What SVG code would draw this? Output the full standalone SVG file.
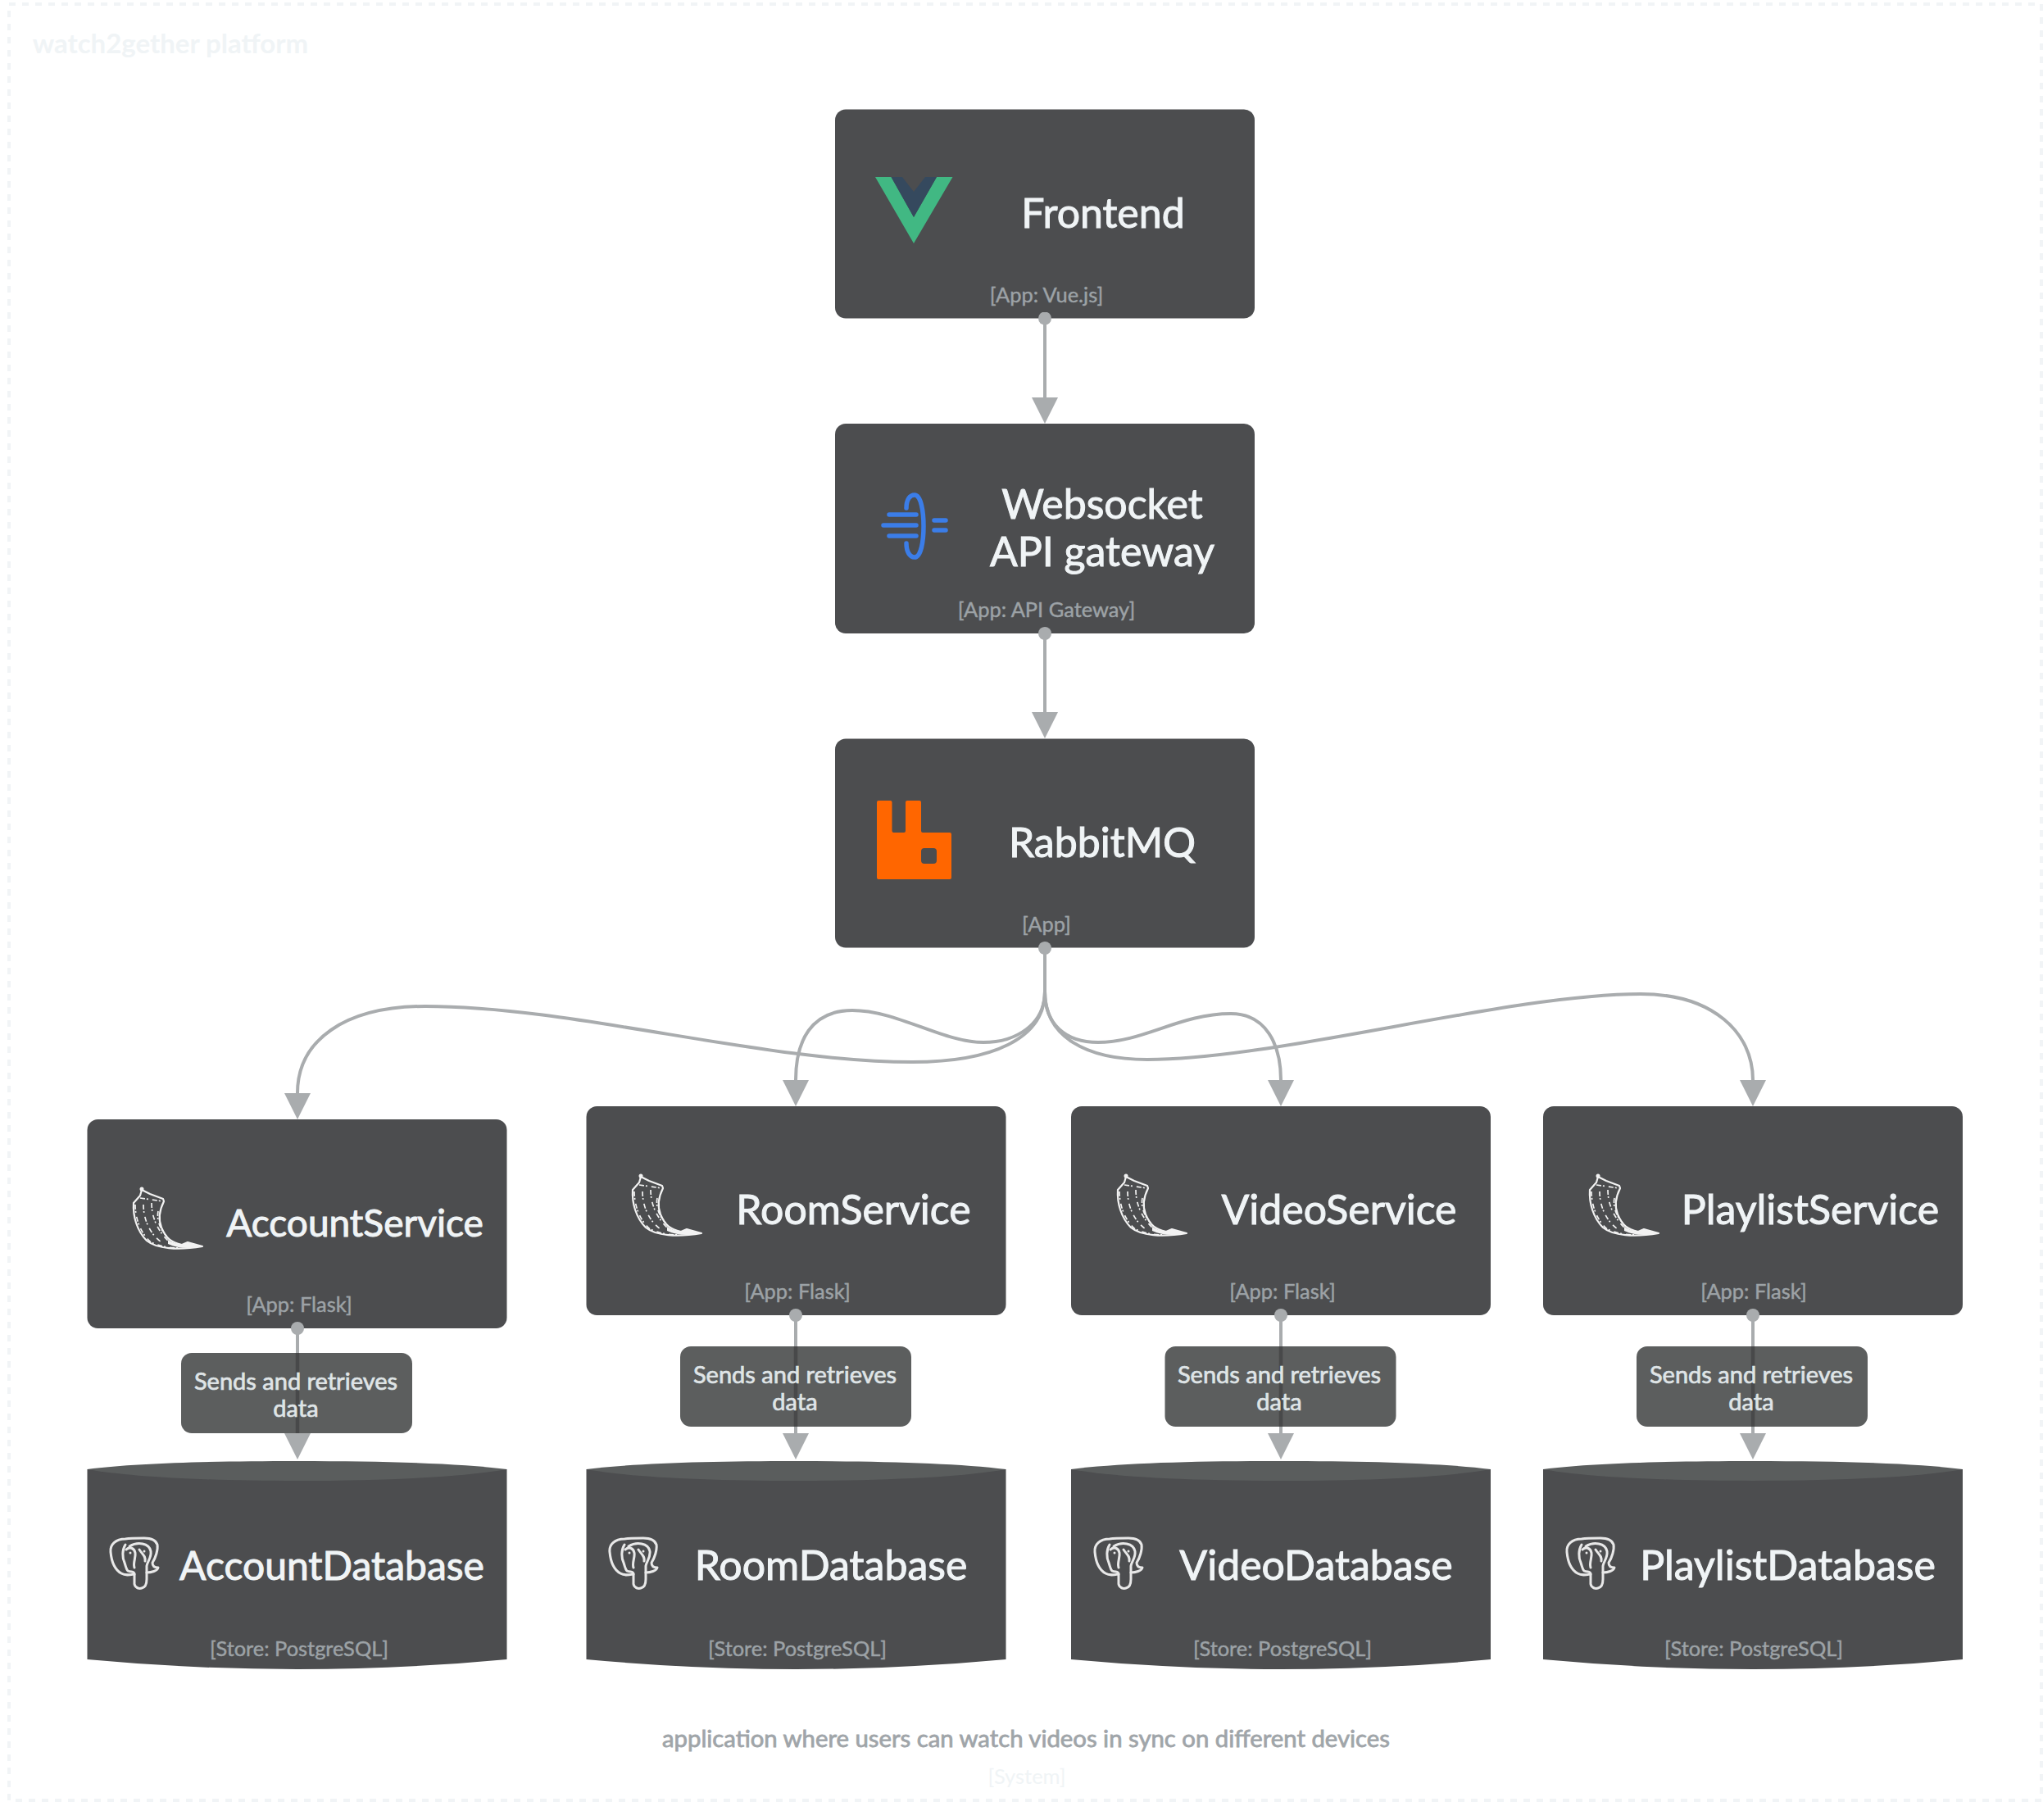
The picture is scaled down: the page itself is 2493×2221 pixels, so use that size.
<svg xmlns="http://www.w3.org/2000/svg" xmlns:xlink="http://www.w3.org/1999/xlink" width="2493" height="2221" viewBox="0 0 2493 2221">
<style>
text{font-family:Lato,"Liberation Sans",sans-serif;text-anchor:middle}
.box{fill:#4c4d4f}
.top{fill:#5a5d5d}
.name{font-size:50px;fill:#f0f4f6;stroke:#f0f4f6;stroke-width:1}
.sub{font-size:25.4px;fill:#9ca2a6;stroke:#9ca2a6;stroke-width:.45}
.lab{font-size:29px;fill:#dfe4e6;stroke:#dfe4e6;stroke-width:.7}
.labbox{fill:#5c5e5e}
.through{stroke:#48494a;stroke-width:4.5}
.conn{fill:none;stroke:#a9acae;stroke-width:4;marker-start:url(#dot);marker-end:url(#arrow)}
.curve{fill:none;stroke:#a9acae;stroke-width:4;marker-end:url(#arrow)}
.fl{fill:none;stroke:#f2f2f2;stroke-width:2.2;stroke-linejoin:round}
.el{fill:none;stroke:#e8e8e8;stroke-width:3;stroke-linejoin:round;stroke-linecap:round}
.bl{fill:none;stroke:#3b7de8;stroke-width:5.5;stroke-linecap:round}
</style>
<defs>
<marker id="arrow" markerUnits="userSpaceOnUse" markerWidth="32" markerHeight="32" viewBox="0 -16 32 32" refX="0" refY="0" orient="auto"><polygon points="0,-16 32,0 0,16" fill="#a9acae"/></marker>
<marker id="dot" markerUnits="userSpaceOnUse" markerWidth="16" markerHeight="16" viewBox="-8 -8 16 16" refX="0" refY="0"><circle r="8" fill="#a9acae"/></marker>
<path id="lid" class="top" d="M0 1793C60 1785.5 150 1783 256 1783C362 1783 452 1785.500 512 1793C462 1802 372 1807 256 1807C140 1807 50 1802 0 1793Z"/>
<g id="flask">
<path d="M100 152C112 158 128 158 142 155L124 150L117 153C110 152 104 150 100 147Z" fill="#f2f2f2"/>
<path class="fl" d="M68 86L66 93L58 102C57 118 62 136 74 148C86 158 112 160 142 155L124 150L117 153C104 150 98 146 92 132C88 122 90 110 95 100L94 97L78 91L68 86"/>
<path d="M60 104C60 120 66 138 78 149C88 155 102 157 116 157M66 96L94 100M70 104C70 122 78 140 92 150M80 102C80 118 86 134 100 148M88 112C86 122 90 134 98 142" fill="none" stroke="#f2f2f2" stroke-width="1.7" stroke-dasharray="6 2 2 5"/>
<circle cx="68" cy="85" r="2.5" fill="#f2f2f2"/>
</g>
<g id="pg">
<path class="el" d="M19 1C7 1 0 8 1 17C2 28 5 38 14 43C19 46 24 45 30 44L30 56C31 61 36 62 39 61C44 60 45 56 45 50L45 42C51 42 58 40 59 36C54 36 52 34 52 30C56 24 59 14 58 8C56 2 50 0 42 0C34 0 25 0 19 1Z"/>
<path class="el" d="M19 8C15 14 15 24 18 30C20 36 20 38 22 40C26 42 30 40 30 44M24 10C34 4 48 6 50 16C51 24 46 28 45 34L45 42M20 14C24 10 30 12 31 18C32 24 28 30 30 36M36 14C40 20 44 22 43 28"/>
<circle cx="25" cy="18" r="1.5" fill="#e8e8e8"/><circle cx="42" cy="16" r="1.5" fill="#e8e8e8"/>
</g>
</defs>
<rect id="boundary" x="11" y="5" width="2480" height="2192" fill="none" stroke="#f1f4f6" stroke-width="4" stroke-dasharray="8 8"/>
<text x="208" y="65" style="font-size:33px;font-weight:700;fill:#f0f4f6">watch2gether platform</text>

<g id="frontend">
<rect class="box" x="1019" y="133.5" width="512" height="255" rx="13"/>
<polygon points="1068,216 1087.5,216 1115,265 1143,216 1162.5,216 1115,297" fill="#41b883"/>
<polygon points="1087.5,216 1101,216 1115,234 1129,216 1143,216 1115,265" fill="#35495e"/>
<text class="name" x="1346" y="278">Frontend</text>
<text class="sub" x="1277" y="369">[App: Vue.js]</text>
</g>
<g id="websocket">
<rect class="box" x="1019" y="517" width="512" height="256" rx="13"/>
<path class="bl" d="M1106 620C1106 610 1110 604 1116 604C1124 604 1127 625 1127 642C1127 660 1124 680 1116 680C1110 680 1106 673 1106 663"/>
<path class="bl" d="M1085 628H1118M1078 641H1118M1085 654H1118M1140 635H1154M1140 647H1154"/>
<text class="name" x="1345" y="632.500">Websocket</text>
<text class="name" x="1345" y="690.500">API gateway</text>
<text class="sub" x="1277" y="753">[App: API Gateway]</text>
</g>
<g id="rabbitmq">
<rect class="box" x="1019" y="901.5" width="512" height="255" rx="13"/>
<path fill-rule="evenodd" fill="#ff6600" d="M1072 977H1086.5Q1088.5 977 1088.5 979V1014Q1088.5 1016 1090.5 1016H1103Q1105 1016 1105 1014V979Q1105 977 1107 977H1122Q1124 977 1124 979V1014Q1124 1016 1126 1016H1159Q1161 1016 1161 1018V1071Q1161 1073 1159 1073H1072Q1070 1073 1070 1071V979Q1070 977 1072 977ZM1128 1035Q1124 1035 1124 1039V1050Q1124 1054 1128 1054H1139Q1143 1054 1143 1050V1039Q1143 1035 1139 1035Z"/>
<text class="name" x="1345" y="1045.500">RabbitMQ</text>
<text class="sub" x="1277" y="1137">[App]</text>
</g>

<g id="account-service">
<rect class="box" x="106.5" y="1366" width="512" height="255" rx="13"/>
<use xlink:href="#flask" href="#flask" x="105" y="1366"/>
<text class="name" x="433" y="1509" style="font-size:46px">AccountService</text>
<text class="sub" x="365" y="1601">[App: Flask]</text>
</g>
<g id="room-service">
<rect class="box" x="715.5" y="1350" width="512" height="255" rx="13"/>
<use xlink:href="#flask" href="#flask" x="714" y="1350"/>
<text class="name" x="1041.5" y="1494">RoomService</text>
<text class="sub" x="973" y="1585">[App: Flask]</text>
</g>
<g id="video-service">
<rect class="box" x="1307" y="1350" width="512" height="255" rx="13"/>
<use xlink:href="#flask" href="#flask" x="1306" y="1350"/>
<text class="name" x="1634" y="1494">VideoService</text>
<text class="sub" x="1565" y="1585">[App: Flask]</text>
</g>
<g id="playlist-service">
<rect class="box" x="1883" y="1350" width="512" height="255" rx="13"/>
<use xlink:href="#flask" href="#flask" x="1882" y="1350"/>
<text class="name" x="2209" y="1494">PlaylistService</text>
<text class="sub" x="2140" y="1585">[App: Flask]</text>
</g>

<g id="account-database">
<path class="box" d="M106.5 1793V2025Q362.5 2049 618.5 2025V1793Z"/><use xlink:href="#lid" href="#lid" x="106.5"/>
<use xlink:href="#pg" href="#pg" x="134" y="1877"/>
<text class="name" x="405" y="1928" style="font-size:48px">AccountDatabase</text>
<text class="sub" x="365" y="2021">[Store: PostgreSQL]</text>
</g>
<g id="room-database">
<path class="box" d="M715.5 1793V2025Q971.5 2049 1227.5 2025V1793Z"/><use xlink:href="#lid" href="#lid" x="715.5"/>
<use xlink:href="#pg" href="#pg" x="743" y="1877"/>
<text class="name" x="1014" y="1928">RoomDatabase</text>
<text class="sub" x="973" y="2021">[Store: PostgreSQL]</text>
</g>
<g id="video-database">
<path class="box" d="M1307 1793V2025Q1563 2049 1819 2025V1793Z"/><use xlink:href="#lid" href="#lid" x="1307"/>
<use xlink:href="#pg" href="#pg" x="1335" y="1877"/>
<text class="name" x="1606" y="1928">VideoDatabase</text>
<text class="sub" x="1565" y="2021">[Store: PostgreSQL]</text>
</g>
<g id="playlist-database">
<path class="box" d="M1883 1793V2025Q2139 2049 2395 2025V1793Z"/><use xlink:href="#lid" href="#lid" x="1883"/>
<use xlink:href="#pg" href="#pg" x="1911" y="1877"/>
<text class="name" x="2181.5" y="1928">PlaylistDatabase</text>
<text class="sub" x="2140" y="2021">[Store: PostgreSQL]</text>
</g>

<g id="connectors">
<path class="conn" d="M1275 388.500V485"/>
<path class="conn" d="M1275 773V869"/>
<path class="curve" d="M1275 1157V1210C1275 1268 1210 1296 1113 1296C930 1296 700 1228 519 1228C420 1228 363 1270 363 1334"/>
<path class="curve" d="M1275 1157V1210C1275 1250 1240 1272 1200 1272C1150 1272 1095 1233 1040 1233C990 1233 971 1270 971 1318"/>
<path class="curve" d="M1275 1157V1210C1275 1250 1300 1272 1340 1272C1395 1272 1440 1237 1502 1237C1545 1237 1563 1275 1563 1318"/>
<path class="curve" d="M1275 1157V1210C1275 1265 1325 1293 1400 1293C1560 1293 1840 1213 2002 1213C2090 1213 2139 1260 2139 1318"/>
<circle cx="1275" cy="1157" r="8" fill="#a9acae"/>
<path class="conn" d="M363 1621V1749"/>
<path class="conn" d="M971 1605V1749"/>
<path class="conn" d="M1563 1605V1749"/>
<path class="conn" d="M2139 1605V1749"/>
<g id="label-account"><rect class="labbox" x="221" y="1651" width="282" height="98" rx="13"/><line class="through" x1="363" y1="1651" x2="363" y2="1749"/><text class="lab" x="361" y="1696">Sends and retrieves</text><text class="lab" x="361" y="1729">data</text></g>
<g id="label-room"><rect class="labbox" x="830" y="1643" width="282" height="98" rx="13"/><line class="through" x1="971" y1="1643" x2="971" y2="1741"/><text class="lab" x="970" y="1688">Sends and retrieves</text><text class="lab" x="970" y="1721">data</text></g>
<g id="label-video"><rect class="labbox" x="1421.500" y="1643" width="282" height="98" rx="13"/><line class="through" x1="1563" y1="1643" x2="1563" y2="1741"/><text class="lab" x="1561" y="1688">Sends and retrieves</text><text class="lab" x="1561" y="1721">data</text></g>
<g id="label-playlist"><rect class="labbox" x="1997" y="1643" width="282" height="98" rx="13"/><line class="through" x1="2139" y1="1643" x2="2139" y2="1741"/><text class="lab" x="2137" y="1688">Sends and retrieves</text><text class="lab" x="2137" y="1721">data</text></g>
</g>
<text x="1252" y="2132" style="font-size:29.300px;fill:#a0a5a9;stroke:#a0a5a9;stroke-width:.8">application where users can watch videos in sync on different devices</text>
<text x="1253" y="2177" style="font-size:25.5px;fill:#f0f4f6">[System]</text>
</svg>
